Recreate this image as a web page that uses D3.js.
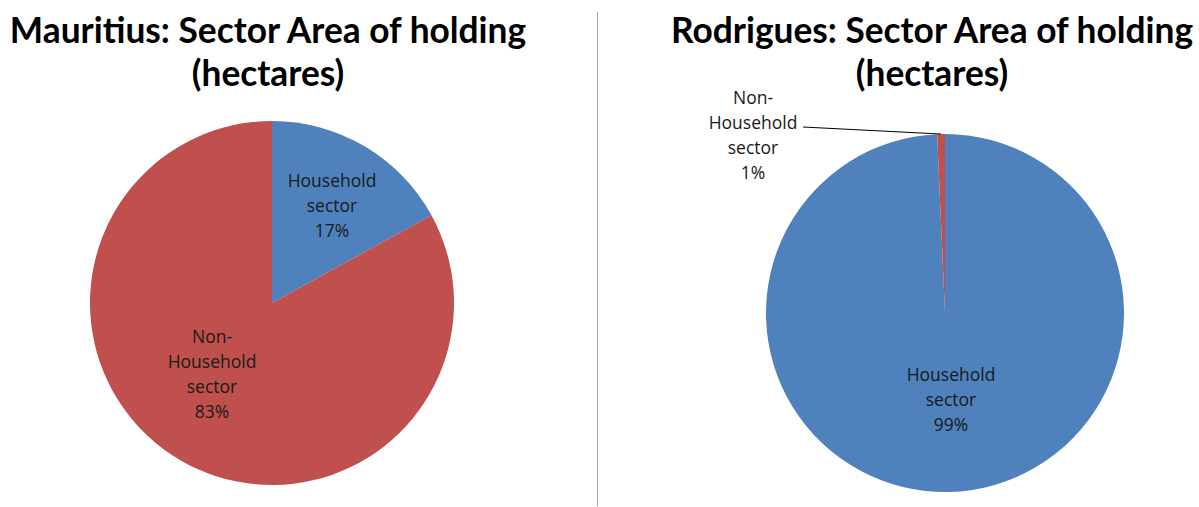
<!DOCTYPE html>
<html><head><meta charset="utf-8">
<script src="https://cdn.jsdelivr.net/npm/d3@7"></script>
<style>html,body{margin:0;padding:0;background:#fff;}svg{display:block;}</style>
</head><body>
<svg id="c" width="1199" height="507"></svg>
<script>
const categories = ["Household sector", "Non-Household sector"];
const mauritiusValues = [17, 83];
const rodriguesValues = [99.3, 0.7];
const percentLabels = { mauritius: ["17%", "83%"], rodrigues: ["99%", "1%"] };
const titles = ["Mauritius: Sector Area of holding", "Rodrigues: Sector Area of holding"];
const subtitle = "(hectares)";
const colors = ["#4F81BD", "#C0504D"];

const svg = d3.select("#c");
const titleFont = "Lato, sans-serif";
const labelFont = "'Open Sans', sans-serif";

svg.append("line").attr("x1",597.5).attr("x2",597.5).attr("y1",12).attr("y2",506)
  .attr("stroke","#a6a6a6").attr("stroke-width",1);

const color = d3.scaleOrdinal().domain(categories).range(colors);
const pie = d3.pie().sort(null).value(d=>d.v);

function drawPie(cfg){
  const g = svg.append("g").attr("transform",`translate(${cfg.cx},${cfg.cy})`);
  const data = categories.map((c,i)=>({c, v: cfg.values[i], p: cfg.pct[i]}));
  const arcs = pie(data);
  const arc = d3.arc().innerRadius(0).outerRadius(cfg.r);
  g.selectAll("path").data(arcs).join("path").attr("d",arc).attr("fill",d=>color(d.data.c));
  const t = svg.append("text").attr("x",cfg.tx).attr("text-anchor","middle")
    .attr("font-family",titleFont).attr("font-weight","bold").attr("font-size",35.3).attr("fill","#000");
  t.append("tspan").attr("x",cfg.tx).attr("y",43).text(cfg.title);
  t.append("tspan").attr("x",cfg.tx).attr("y",86).text(subtitle);
  arcs.forEach((a,i)=>{
    const L = cfg.labels[i];
    const words = a.data.c.startsWith("Non-") ? ["Non-","Household","sector",a.data.p] : ["Household","sector",a.data.p];
    const tx = svg.append("text").attr("text-anchor","middle").attr("font-family",labelFont)
      .attr("font-size",17.5).attr("fill","#1a1a1a");
    words.forEach((w,k)=>tx.append("tspan").attr("x",L.x).attr("y",L.y+k*25).text(w));
    if(L.leader){
      const ang = (a.startAngle+a.endAngle)/2;
      const px = cfg.cx + Math.sin(ang)*cfg.r, py = cfg.cy - Math.cos(ang)*cfg.r;
      svg.append("path").attr("d",`M${L.leader[0]},${L.leader[1]}L${px},${py}`)
        .attr("stroke","#000").attr("stroke-width",1).attr("fill","none");
    }
  });
}

drawPie({cx:272, cy:303, r:182, values:mauritiusValues, pct:percentLabels.mauritius, title:titles[0], tx:268,
  labels:[{x:332,y:187},{x:212,y:343}]});
drawPie({cx:945, cy:313, r:179, values:rodriguesValues, pct:percentLabels.rodrigues, title:titles[1], tx:932,
  labels:[{x:951,y:381},{x:753,y:104,leader:[803,127]}]});
</script>
</body></html>
